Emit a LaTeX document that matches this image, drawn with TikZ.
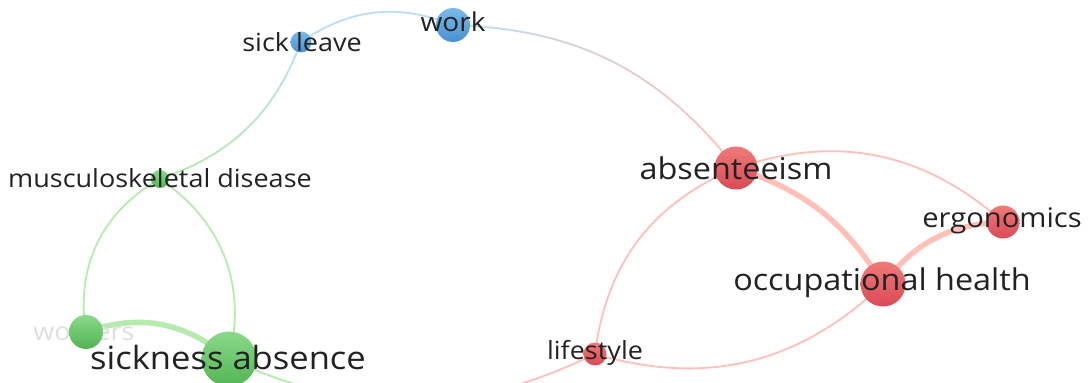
\documentclass[tikz,border=0pt]{standalone}
\usepackage{fontspec}
\setmainfont[FakeStretch=1.08]{Open Sans}
\usetikzlibrary{backgrounds}

\definecolor{blueTop}{HTML}{7DB9EA}
\definecolor{blueBot}{HTML}{4A90D0}
\definecolor{greenTop}{HTML}{8AD98A}
\definecolor{greenBot}{HTML}{52B552}
\definecolor{redTop}{HTML}{F07A7A}
\definecolor{redBot}{HTML}{D94A55}
\definecolor{blueEdge}{HTML}{BBDDF6}
\definecolor{greenEdge}{HTML}{B6EBAE}
\definecolor{redEdge}{HTML}{FFC0B8}
\definecolor{labelgray}{HTML}{222222}

\begin{document}
\begin{tikzpicture}[x=1pt, y=1pt,
  kw/.style={circle, inner sep=0pt},
  bluekw/.style={kw, top color=blueTop, bottom color=blueBot},
  greenkw/.style={kw, top color=greenTop, bottom color=greenBot},
  redkw/.style={kw, top color=redTop, bottom color=redBot},
  lbl/.style={text=labelgray, inner sep=0pt},
  link/.style={line width=1.8pt},
  thick link/.style={line width=5.5pt}]
\useasboundingbox (0,0) rectangle (1088,383);

% keywords
\node[bluekw, minimum size=34] (work) at (453,358) {};
\node[bluekw, minimum size=21] (sickleave) at (301,341) {};
\node[greenkw, minimum size=18] (musculo) at (160,204) {};
\node[greenkw, minimum size=34] (workers) at (86,51) {};
\node[greenkw, minimum size=55] (sickabs) at (229,24) {};
\node[redkw, minimum size=43] (absent) at (736,215) {};
\node[redkw, minimum size=33] (ergo) at (1003,161) {};
\node[redkw, minimum size=45] (occ) at (883,99) {};
\node[redkw, minimum size=23] (lifestyle) at (595,29) {};

% links
\begin{scope}[on background layer]
  \draw[link, blueEdge] (sickleave.center) to[bend left=28] (work.center);
  % work -- absenteeism, blue into red
  \foreach \i in {0,...,9} {
    \pgfmathtruncatemacro\pct{100-\i*11}
    \pgfmathsetmacro\xa{\i==0 ? 0 : 453+\i*28.3}
    \pgfmathsetmacro\xb{\i==9 ? 1088 : 453+(\i+1)*28.3}
    \begin{scope}
      \clip (\xa,0) rectangle (\xb,383);
      \draw[link, blueEdge!\pct!redEdge] (work.center) to[bend left=25] (absent.center);
    \end{scope}
  }
  % sick leave -- musculoskeletal disease, blue into green
  \foreach \i in {0,...,9} {
    \pgfmathtruncatemacro\pct{\i*11}
    \pgfmathsetmacro\ya{\i==0 ? 0 : 204+\i*13.7}
    \pgfmathsetmacro\yb{\i==9 ? 383 : 204+(\i+1)*13.7}
    \begin{scope}
      \clip (0,\ya) rectangle (1088,\yb);
      \draw[link, blueEdge!\pct!greenEdge] (sickleave.center) to[bend left=25] (musculo.center);
    \end{scope}
  }
  \draw[link, greenEdge] (musculo.center) to[bend right=35] (workers.center);
  \draw[link, greenEdge] (musculo.center) to[bend left=35] (sickabs.center);
  \draw[thick link, greenEdge] (workers.center) to[bend left=30] (sickabs.center);
  \begin{scope}
    \clip (0,-60) rectangle (410,383);
    \draw[link, greenEdge] (sickabs.center) to[bend right=25] (lifestyle.center);
  \end{scope}
  \begin{scope}
    \clip (410,-60) rectangle (1088,383);
    \draw[link, redEdge] (sickabs.center) to[bend right=25] (lifestyle.center);
  \end{scope}
  \draw[link, redEdge] (absent.center) to[bend left=30] (ergo.center);
  \draw[thick link, redEdge] (absent.center) to[bend left=20] (occ.center);
  \draw[thick link, redEdge] (ergo.center) to[bend right=25] (occ.center);
  \draw[link, redEdge] (absent.center) to[bend right=30] (lifestyle.center);
  \draw[link, redEdge] (lifestyle.center) to[bend right=30] (occ.center);
  % faded label sits under its circle
  \node[lbl, text=black!13, font=\fontsize{25}{30}\selectfont] (workers-l) at (84,52) {workers};
\end{scope}

% labels
\node[lbl, font=\fontsize{26}{31}\selectfont] (work-l) at (453,361) {work};
\node[lbl, font=\fontsize{25}{30}\selectfont] (sickleave-l) at (302,341) {sick leave};
\node[lbl, font=\fontsize{25}{30}\selectfont] (musculo-l) at (160,205) {musculoskeletal disease};
\node[lbl, font=\fontsize{32}{38}\selectfont] (sickabs-l) at (228,25) {sickness absence};
\node[lbl, font=\fontsize{30}{36}\selectfont] (absent-l) at (736,215) {absenteeism};
\node[lbl, font=\fontsize{27}{32}\selectfont] (ergo-l) at (1002,162) {ergonomics};
\node[lbl, font=\fontsize{30}{36}\selectfont] (occ-l) at (882,100) {occupational health};
\node[lbl, font=\fontsize{25}{30}\selectfont] (lifestyle-l) at (595,30) {lifestyle};
\end{tikzpicture}
\end{document}
